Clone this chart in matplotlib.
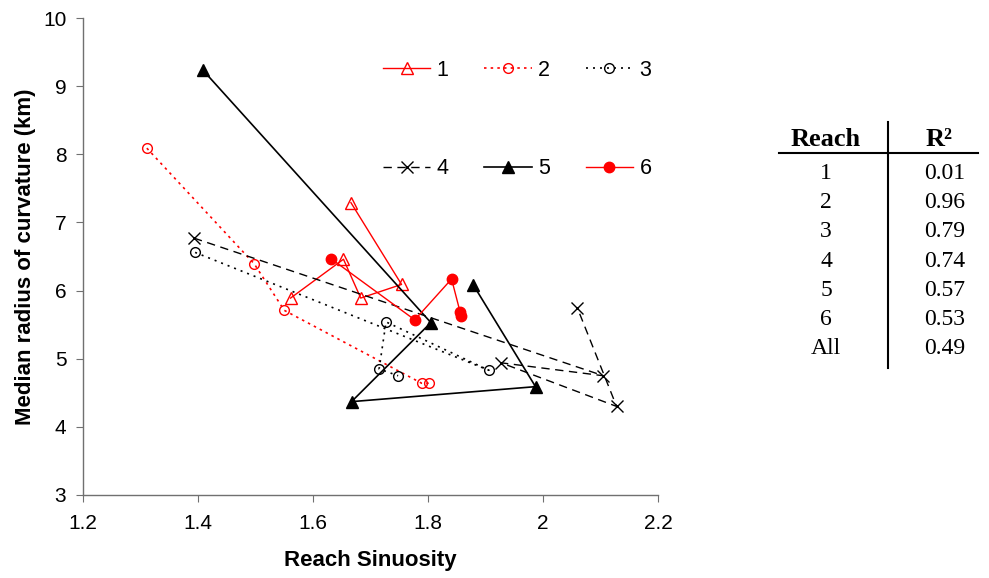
import matplotlib
matplotlib.use('Agg')
import matplotlib.pyplot as plt
from matplotlib.lines import Line2D

plt.rcParams['font.family'] = ['Liberation Sans', 'DejaVu Sans']

# reach sinuosity / median radius of curvature (km), points in drawn order
x1 = [1.666, 1.754, 1.683, 1.653, 1.561]
y1 = [7.29, 6.09, 5.89, 6.46, 5.89]
x2 = [1.311, 1.498, 1.550, 1.789, 1.802]
y2 = [8.09, 6.39, 5.71, 4.64, 4.64]
x3 = [1.395, 1.906, 1.727, 1.715, 1.748]
y3 = [6.56, 4.83, 5.54, 4.85, 4.75]
x4 = [1.393, 2.105, 1.927, 2.128, 2.060]
y4 = [6.77, 4.75, 4.94, 4.30, 5.74]
x5 = [1.408, 1.805, 1.667, 1.987, 1.879]
y5 = [9.24, 5.53, 4.37, 4.59, 6.08]
x6 = [1.631, 1.777, 1.841, 1.856, 1.857]
y6 = [6.47, 5.57, 6.17, 5.68, 5.63]

reach_names = ['1', '2', '3', '4', '5', '6', 'All']
r2_values = ['0.01', '0.96', '0.79', '0.74', '0.57', '0.53', '0.49']

W, H = 989, 578
fig = plt.figure(figsize=(W / 100, H / 100), dpi=100)
ax = fig.add_axes([83 / W, 1 - 495 / H, (658 - 83) / W, (495 - 18) / H])

red = '#ff0000'
l1, = ax.plot(x1, y1, color=red, lw=1.0, ls='-', marker='^', ms=8,
              mfc='none', mec=red, mew=1.0, label='1')
l2, = ax.plot(x2, y2, color=red, lw=1.2, ls=(0, (1.5, 2.5)), marker='o', ms=7,
              mfc='none', mec=red, mew=1.0, label='2')
l3, = ax.plot(x3, y3, color='black', lw=1.2, ls=(0, (1.2, 3)), marker='o', ms=7,
              mfc='none', mec='black', mew=1.0, label='3')
l4, = ax.plot(x4, y4, color='black', lw=1.0, ls=(0, (6, 4)), marker='x', ms=8,
              mec='black', mew=1.0, label='4')
l5, = ax.plot(x5, y5, color='black', lw=1.2, ls='-', marker='^', ms=8,
              mfc='black', mec='black', label='5')
l6, = ax.plot(x6, y6, color=red, lw=1.0, ls='-', marker='o', ms=7.5,
              mfc=red, mec=red, label='6')

ax.set_xlim(1.2, 2.2)
ax.set_ylim(3, 10)
ax.set_xticks([1.2, 1.4, 1.6, 1.8, 2.0, 2.2])
ax.set_xticklabels(['1.2', '1.4', '1.6', '1.8', '2', '2.2'])
ax.set_yticks(range(3, 11))
for s in ['top', 'right']:
    ax.spines[s].set_visible(False)
for s in ['left', 'bottom']:
    ax.spines[s].set_color('#707070')
    ax.spines[s].set_linewidth(1.0)
ax.tick_params(axis='both', direction='out', length=5, color='#707070',
               labelsize=15)
ax.tick_params(axis='x', pad=9)
ax.tick_params(axis='y', pad=7)
ax.set_xlabel('Reach Sinuosity', fontsize=16, fontweight='bold', labelpad=12)
ax.set_ylabel('Median radius of curvature (km)', fontsize=16,
              fontweight='bold', labelpad=5)

handles = [l1, l4, l2, l5, l3, l6]
ax.legend(handles=handles, labels=[h.get_label() for h in handles], ncol=3,
          loc='upper left', bbox_to_anchor=(383 / W, 1 - 60 / H),
          bbox_transform=fig.transFigure, frameon=False, fontsize=15.5,
          handlelength=2.2, handletextpad=0.3, columnspacing=1.65,
          labelspacing=3.6, borderpad=0, borderaxespad=0, numpoints=1)

# R^2 table at the right
def fx(px):
    return px / W

def fy(py):
    return 1 - py / H

serif = ['Liberation Serif', 'DejaVu Serif']
fig.text(fx(826), fy(140), 'Reach', family=serif, fontsize=19,
         fontweight='bold', ha='center', va='center')
fig.text(fx(939), fy(140), 'R²', family=serif, fontsize=19,
         fontweight='bold', ha='center', va='center')
for i, (n, v) in enumerate(zip(reach_names, r2_values)):
    yy = 173.5 + i * 29.2
    fig.text(fx(826), fy(yy), n, family=serif, fontsize=17,
             ha='center', va='center')
    fig.text(fx(945), fy(yy), v, family=serif, fontsize=17,
             ha='center', va='center')
fig.add_artist(Line2D([fx(779), fx(978)], [fy(152.5), fy(152.5)],
                      color='black', lw=1.5))
fig.add_artist(Line2D([fx(888), fx(888)], [fy(122), fy(368)],
                      color='black', lw=1.5))

fig.savefig('out.png', dpi=100)
